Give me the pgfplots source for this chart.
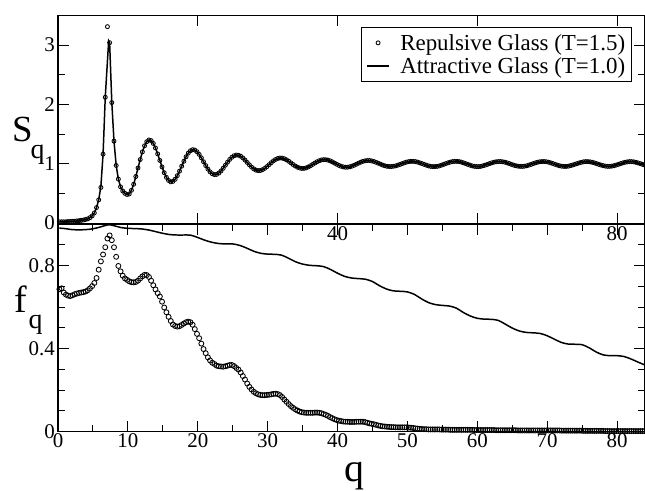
\documentclass[border=0pt]{standalone}
\usepackage{pgfplots}
\pgfplotsset{compat=1.18}
\usepackage{pgfplotstable}
\usepackage{fontspec}
\setmainfont{Liberation Serif}

\pgfplotstableread{
q S f
0.2 0.02 0.686
0.5125 0.02 0.690
0.825 0.02 0.670
1.1375 0.02 0.660
1.45 0.025 0.655
1.7625 0.025 0.653
2.075 0.03 0.657
2.3875 0.03 0.662
2.7 0.035 0.665
3.0125 0.04 0.668
3.325 0.045 0.670
3.6375 0.05 0.672
3.95 0.06 0.675
4.2625 0.07 0.681
4.575 0.09 0.690
4.8875 0.12 0.701
5.2 0.17 0.716
5.5125 0.26 0.740
5.825 0.39 0.780
6.1375 0.60 0.820
6.45 1.16 0.853
6.7625 2.12 0.888
7.075 3.31 0.930
7.3875 3.04 0.945
7.7 2.03 0.922
8.0125 1.38 0.888
8.325 0.97 0.842
8.6375 0.74 0.798
8.95 0.61 0.772
9.2625 0.54 0.751
9.575 0.50 0.738
9.8875 0.48 0.731
10.2 0.49 0.724
10.5125 0.551 0.720
10.825 0.653 0.719
11.1375 0.784 0.721
11.45 0.928 0.727
11.7625 1.070 0.738
12.075 1.199 0.748
12.3875 1.302 0.755
12.7 1.370 0.754
13.0125 1.400 0.745
13.325 1.389 0.727
13.6375 1.341 0.705
13.95 1.264 0.685
14.2625 1.165 0.667
14.575 1.055 0.651
14.8875 0.946 0.626
15.2 0.848 0.598
15.5125 0.769 0.575
15.825 0.717 0.553
16.1375 0.694 0.533
16.45 0.702 0.516
16.7625 0.738 0.509
17.075 0.798 0.506
17.3875 0.874 0.508
17.7 0.958 0.514
18.0125 1.041 0.521
18.325 1.117 0.527
18.6375 1.178 0.530
18.95 1.218 0.527
19.2625 1.236 0.515
19.575 1.230 0.494
19.8875 1.202 0.471
20.2 1.157 0.450
20.5125 1.098 0.424
20.825 1.033 0.398
21.1375 0.968 0.378
21.45 0.909 0.358
21.7625 0.862 0.343
22.075 0.830 0.332
22.3875 0.816 0.326
22.7 0.820 0.318
23.0125 0.842 0.315
23.325 0.877 0.314
23.6375 0.923 0.313
23.95 0.974 0.315
24.2625 1.025 0.318
24.575 1.072 0.321
24.8875 1.109 0.321
25.2 1.134 0.316
25.5125 1.146 0.307
25.825 1.142 0.299
26.1375 1.126 0.285
26.45 1.097 0.268
26.7625 1.061 0.251
27.075 1.021 0.232
27.3875 0.980 0.216
27.7 0.943 0.203
28.0125 0.913 0.192
28.325 0.892 0.185
28.6375 0.883 0.180
28.95 0.885 0.177
29.2625 0.899 0.176
29.575 0.921 0.176
29.8875 0.950 0.177
30.2 0.983 0.178
30.5125 1.016 0.180
30.825 1.047 0.182
31.1375 1.071 0.183
31.45 1.088 0.181
31.7625 1.096 0.176
32.075 1.094 0.167
32.3875 1.083 0.155
32.7 1.065 0.144
33.0125 1.041 0.133
33.325 1.014 0.123
33.6375 0.986 0.115
33.95 0.961 0.108
34.2625 0.941 0.102
34.575 0.927 0.097
34.8875 0.920 0.094
35.2 0.921 0.092
35.5125 0.930 0.091
35.825 0.945 0.091
36.1375 0.966 0.091
36.45 0.988 0.091
36.7625 1.011 0.092
37.075 1.033 0.092
37.3875 1.050 0.091
37.7 1.063 0.089
38.0125 1.068 0.085
38.325 1.067 0.081
38.6375 1.060 0.076
38.95 1.047 0.070
39.2625 1.030 0.065
39.575 1.010 0.060
39.8875 0.990 0.056
40.2 0.971 0.053
40.5125 0.956 0.051
40.825 0.946 0.049
41.1375 0.940 0.048
41.45 0.941 0.048
41.7625 0.948 0.047
42.075 0.959 0.047
42.3875 0.974 0.047
42.7 0.991 0.048
43.0125 1.009 0.048
43.325 1.025 0.048
43.6375 1.039 0.048
43.95 1.048 0.046
44.2625 1.053 0.043
44.575 1.053 0.040
44.8875 1.047 0.038
45.2 1.037 0.036
45.5125 1.023 0.033
45.825 1.008 0.030
46.1375 0.992 0.028
46.45 0.977 0.026
46.7625 0.965 0.025
47.075 0.956 0.024
47.3875 0.952 0.023
47.7 0.952 0.022
48.0125 0.957 0.022
48.325 0.963 0.021
48.6375 0.975 0.021
48.95 0.988 0.021
49.2625 1.002 0.021
49.575 1.015 0.021
49.8875 1.027 0.021
50.2 1.035 0.020
50.5125 1.039 0.019
50.825 1.039 0.018
51.1375 1.035 0.016
51.45 1.027 0.015
51.7625 1.015 0.014
52.075 1.002 0.013
52.3875 0.988 0.012
52.7 0.975 0.012
53.0125 0.963 0.011
53.325 0.955 0.011
53.6375 0.951 0.011
53.95 0.951 0.011
54.2625 0.955 0.011
54.575 0.963 0.011
54.8875 0.975 0.010
55.2 0.988 0.010
55.5125 1.002 0.010
55.825 1.015 0.010
56.1375 1.027 0.009
56.45 1.035 0.009
56.7625 1.039 0.009
57.075 1.039 0.009
57.3875 1.035 0.009
57.7 1.027 0.009
58.0125 1.015 0.009
58.325 1.002 0.009
58.6375 0.988 0.009
58.95 0.975 0.009
59.2625 0.963 0.009
59.575 0.955 0.008
59.8875 0.951 0.008
60.2 0.951 0.008
60.5125 0.955 0.008
60.825 0.965 0.008
61.1375 0.976 0.008
61.45 0.988 0.008
61.7625 1.002 0.008
62.075 1.014 0.008
62.3875 1.025 0.008
62.7 1.032 0.007
63.0125 1.036 0.007
63.325 1.036 0.007
63.6375 1.032 0.007
63.95 1.025 0.007
64.2625 1.014 0.007
64.575 1.002 0.007
64.8875 0.988 0.007
65.2 0.976 0.007
65.5125 0.965 0.007
65.825 0.958 0.006
66.1375 0.954 0.006
66.45 0.954 0.006
66.7625 0.958 0.006
67.075 0.965 0.006
67.3875 0.976 0.006
67.7 0.988 0.006
68.0125 1.002 0.006
68.325 1.014 0.006
68.6375 1.025 0.006
68.95 1.032 0.006
69.2625 1.036 0.006
69.575 1.036 0.006
69.8875 1.032 0.006
70.2 1.025 0.006
70.5125 1.014 0.006
70.825 1.002 0.006
71.1375 0.988 0.006
71.45 0.976 0.006
71.7625 0.965 0.006
72.075 0.958 0.005
72.3875 0.954 0.005
72.7 0.954 0.005
73.0125 0.958 0.005
73.325 0.967 0.005
73.6375 0.977 0.005
73.95 0.989 0.005
74.2625 1.001 0.005
74.575 1.013 0.005
74.8875 1.023 0.005
75.2 1.031 0.004
75.5125 1.035 0.004
75.825 1.035 0.004
76.1375 1.031 0.004
76.45 1.023 0.004
76.7625 1.013 0.004
77.075 1.001 0.004
77.3875 0.989 0.004
77.7 0.977 0.004
78.0125 0.967 0.004
78.325 0.959 0.003
78.6375 0.955 0.003
78.95 0.955 0.003
79.2625 0.959 0.003
79.575 0.967 0.003
79.8875 0.977 0.003
80.2 0.989 0.003
80.5125 1.001 0.003
80.825 1.013 0.003
81.1375 1.023 0.003
81.45 1.031 0.003
81.7625 1.035 0.003
82.075 1.035 0.003
82.3875 1.031 0.003
82.7 1.023 0.003
83.0125 1.013 0.003
83.325 1.001 0.003
83.6375 0.989 0.003
83.95 0.977 0.003
}\dataRep

\pgfplotstableread{
q S
0.2 0.02
0.5125 0.02
0.825 0.02
1.1375 0.02
1.45 0.025
1.7625 0.025
2.075 0.03
2.3875 0.03
2.7 0.035
3.0125 0.04
3.325 0.045
3.6375 0.05
3.95 0.06
4.2625 0.07
4.575 0.09
4.8875 0.12
5.2 0.17
5.5125 0.26
5.825 0.39
6.1375 0.62
6.45 1.16
6.7625 2.12
7.25 3.07
7.3875 3.04
7.7 2.03
8.0125 1.38
8.325 0.97
8.6375 0.74
8.95 0.61
9.2625 0.54
9.575 0.50
9.8875 0.48
10.2 0.49
}\lineS

\pgfplotstableread{
q f
0.2 0.980
1 0.978
2 0.973
3 0.972
4 0.973
5 0.977
6 0.985
7 0.995
7.5 0.996
8 0.992
9 0.983
10 0.979
11 0.978
12 0.976
13 0.971
14 0.963
15 0.955
16 0.949
17 0.947
18 0.947
19 0.946
20 0.935
21 0.922
22 0.912
23 0.906
24 0.904
25 0.904
26 0.897
27 0.884
28 0.869
29 0.859
30 0.855
31 0.854
32 0.850
33 0.835
34 0.818
35 0.807
36 0.801
37 0.799
38 0.795
39 0.781
40 0.763
41 0.748
42 0.740
43 0.737
44 0.734
45 0.723
46 0.703
47 0.687
48 0.678
49 0.676
50 0.673
51 0.661
52 0.640
53 0.622
54 0.612
55 0.608
56 0.605
57 0.595
58 0.574
59 0.557
60 0.546
61 0.542
62 0.541
63 0.536
64 0.518
65 0.499
66 0.485
67 0.478
68 0.476
69 0.473
70 0.462
71 0.446
72 0.430
73 0.422
74 0.421
75 0.419
76 0.404
77 0.384
78 0.370
79 0.366
80 0.366
81 0.362
82 0.350
83 0.335
84 0.321
}\lineF

\pgfplotsset{
  myax/.style={
    scale only axis, width=587bp, xmin=0, xmax=84,
    axis line style={line width=1.1pt},
    every tick/.style={black, line width=1pt},
    major tick length=11bp, minor tick length=7bp, tick align=inside,
    ticklabel style={font=\fontsize{21}{21}\selectfont},
    /pgf/number format/assume math mode=true,
    xticklabel style={inner sep=2bp},
    yticklabel style={inner sep=3bp},
  },
  circ/.style={only marks, mark=o, mark size=2.5bp, mark options={line width=0.85pt, black}},
  lin/.style={no marks, black, line width=1.5pt},
}
\pgfplotsset{legend image code/.code={\draw[mark repeat=2,mark phase=2,#1] plot coordinates {(0bp,0bp) (11bp,0bp) (22bp,0bp)};}}

\begin{document}
\begin{tikzpicture}[x=1bp,y=1bp]
\useasboundingbox (0,0) rectangle (645,491);

% bottom panel: f_q
\begin{axis}[myax, at={(58bp,59.3bp)}, anchor=south west, height=207.7bp,
  ymin=0, ymax=1,
  xtick={0,10,...,80}, minor xtick={5,15,...,75},
  ytick={0,0.4,0.8}, minor ytick={0.1,0.2,0.3,0.5,0.6,0.7,0.9}]
\addplot[circ] table[x=q, y=f] {\dataRep};
\addplot[lin, smooth] table[x=q, y=f] {\lineF};
\end{axis}

% top panel: S_q
\begin{axis}[myax, at={(58bp,266.8bp)}, anchor=south west, height=208.8bp,
  ymin=-0.02, ymax=3.5,
  xtick={20,40,60,80}, xticklabels={,40,,80},
  ytick={0,1,2,3}, minor ytick={0.5,1.5,2.5,3.5},
  legend style={at={(axis cs:82.15,3.30)}, anchor=north east, draw=black, line width=0.8pt,
    font=\fontsize{23}{25}\selectfont, inner xsep=5bp, inner ysep=5bp,
    nodes={inner sep=1.5bp}, row sep=3bp,
    /tikz/every odd column/.append style={column sep=9bp}},
  legend cell align=left]
\addplot[circ, mark size=2bp] table[x=q, y=S] {\dataRep};
\addlegendentry{Repulsive Glass (T=1.5)}
\addplot[lin] table[x=q, y=S] {\lineS};
\addlegendentry{Attractive Glass (T=1.0)}
\addplot[lin, forget plot, restrict x to domain=10.1:84] table[x=q, y=S] {\dataRep};
\end{axis}

% axis titles
\node[font=\fontsize{37}{37}\selectfont, inner sep=0pt] at (22.5,361.5) {S};
\node[font=\fontsize{28}{28}\selectfont, inner sep=0pt] at (37.5,336) {q};
\node[font=\fontsize{38}{38}\selectfont, inner sep=0pt] at (21,192) {f};
\node[font=\fontsize{28}{28}\selectfont, inner sep=0pt] at (35.5,166) {q};
\node[font=\fontsize{40}{40}\selectfont, inner sep=0pt] at (354,14.5) {q};
\end{tikzpicture}
\end{document}
